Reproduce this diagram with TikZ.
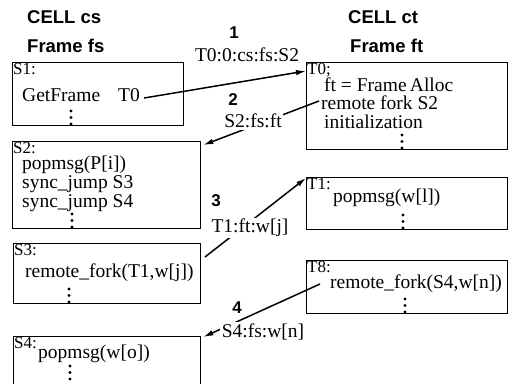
\documentclass[tikz,border=0pt]{standalone}
\usepackage{fontspec}
\setmainfont{Liberation Serif}
\setsansfont{Liberation Sans}
\usetikzlibrary{positioning, arrows.meta}

\begin{document}
\begin{tikzpicture}[
    x=1pt, y=-1pt,
    cellbox/.style={draw, line width=1.3pt, rectangle, anchor=north west, inner sep=0pt},
    code/.style={font=\fontsize{19.5}{22}\selectfont, anchor=west, inner sep=0pt},
    tag/.style={font=\fontsize{17}{19}\selectfont, anchor=north west, inner sep=1pt},
    head/.style={font=\sffamily\bfseries\fontsize{18.5}{21}\selectfont, anchor=west, inner sep=0pt},
    num/.style={font=\sffamily\bfseries\fontsize{17}{20}\selectfont, inner sep=0pt},
    msg/.style={font=\fontsize{19.5}{22}\selectfont, fill=white, inner sep=1.5pt},
    arrow/.style={-{Latex[length=10pt, width=5.5pt]}, line width=1.5pt}
]
\clip (0,0) rectangle (510,383);

% Headers
\node (cellcs) [head] at (27,17) {CELL cs};
\node (framefs) [head] at (27,46) {Frame fs};
\node (cellct) [head] at (348,17) {CELL ct};
\node (frameft) [head] at (350,46) {Frame ft};

% Boxes, cell cs
\node (s1) [cellbox, minimum width=171pt, minimum height=63pt] at (12,62) {};
\node (s2) [cellbox, minimum width=188pt, minimum height=87pt] at (12,141) {};
\node (s3) [cellbox, minimum width=187pt, minimum height=60pt] at (13,243) {};
\node (s4) [cellbox, minimum width=187pt, minimum height=80pt] at (13,336) {};

% Boxes, cell ct
\node (t0) [cellbox, minimum width=201pt, minimum height=87pt] at (306,62) {};
\node (t1) [cellbox, minimum width=201pt, minimum height=52pt] at (306,177) {};
\node (t8) [cellbox, minimum width=201pt, minimum height=53pt] at (306,260) {};

% Box texts
\node (s1tag) [tag] at (s1.north west) {S1:};
\node (getframe) [code] at (22,95) {GetFrame};
\node (gett0) [code] at (118,95) {T0};

\node (s2tag) [tag] at (s2.north west) {S2:};
\node (popp) [code] at (22,165) {popmsg(P[i])};
\node (jumpa) [code] at (22,184) {sync\_jump S3};
\node (jumpb) [code] at (22,203) {sync\_jump S4};

\node (s3tag) [tag] at (s3.north west) {S3:};
\node (forka) [code] at (25,273) {remote\_fork(T1,w[j])};

\node (s4tag) [tag] at (s4.north west) {S4:};
\node (popo) [code] at (38,354) {popmsg(w[o])};

\node (t0tag) [tag] at (t0.north west) {T0;};
\node (alloc) [code] at (324,85) {ft = Frame\,Alloc};
\node (fork) [code] at (321,103) {remote fork S2};
\node (init) [code] at (324,122) {initialization};

\node (t1tag) [tag] at (t1.north west) {T1:};
\node (popl) [code] at (333,198) {popmsg(w[l])};

\node (t8tag) [tag] at (t8.north west) {T8:};
\node (forkb) [code] at (330,284) {remote\_fork(S4,w[n])};

% Dots
\foreach \x/\y in {71/111, 72/214, 69/289, 70/366, 402/135, 403/215, 405/299}
    \foreach \d in {0,6.5,13}
        \fill (\x,\y+\d) circle (1.7pt);

% Edges
\coordinate (from3) at (205,257);
\draw[arrow] ([xshift=4pt,yshift=-3pt]gett0.east) to ([yshift=-9pt]t0.north west);
\draw[arrow] ([xshift=-2pt,yshift=2pt]fork.west) to ([xshift=2pt,yshift=-4pt]s2.north east);
\draw[arrow] (from3) to ([yshift=-1pt]t1.north west);
\draw[arrow] ([xshift=-10pt]forkb.west) to ([xshift=2pt,yshift=-1pt]s4.north east);

% Messages
\node (n1) [num] at (234,33) {1};
\node (m1) [msg] at (247,55) {T0:0:cs:fs:S2};
\node (n2) [num] at (233,100) {2};
\node (m2) [msg] at (253,121) {S2:fs:ft};
\node (n3) [num] at (216,201) {3};
\node (m3) [msg] at (250,228) {T1:ft:w[j]};
\node (n4) [num] at (237,308) {4};
\node (m4) [msg] at (263,332) {S4:fs:w[n]};

\end{tikzpicture}
\end{document}
